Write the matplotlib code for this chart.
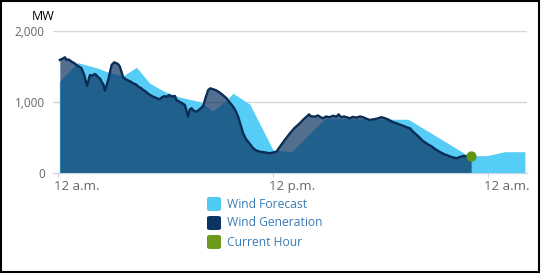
import matplotlib.pyplot as plt
from matplotlib.patches import FancyBboxPatch, Rectangle
from matplotlib.transforms import ScaledTranslation

plt.rcParams['font.family'] = ['Open Sans', 'DejaVu Sans']

# hours after 12 a.m., MW
forecast_hours = [0.07, 1.09, 2.24, 2.71, 3.63, 4.38, 5.12, 5.96, 6.70, 7.91,
                  8.64, 9.40, 9.77, 10.70, 12.00, 13.03, 14.80, 14.98, 18.61, 19.54,
                  22.98, 23.35, 23.91, 24.93, 26.05]
forecast_mw = [1289, 1556, 1477, 1429, 1369, 1491, 1266, 1148, 1078, 1008,
               877, 1032, 1126, 972, 330, 306, 751, 775, 761, 761,
               236, 250, 250, 306, 306]

gen_hours = [0.10, 0.25, 0.38, 0.48, 0.60, 0.75, 0.90, 1.03, 1.17, 1.31,
             1.45, 1.62, 1.78, 1.90, 2.05, 2.15, 2.24, 2.35, 2.43, 2.53,
             2.61, 2.70, 2.80, 2.90, 2.99, 3.13, 3.27, 3.37, 3.45, 3.55,
             3.63, 3.80, 3.95, 4.05, 4.19, 4.35, 4.50, 4.63, 4.75, 4.90,
             5.03, 5.15, 5.31, 5.45, 5.57, 5.68, 5.80, 5.93, 6.06, 6.20,
             6.35, 6.52, 6.61, 6.75, 6.90, 7.08, 7.17, 7.26, 7.35, 7.45,
             7.57, 7.73, 7.90, 8.10, 8.23, 8.38, 8.50, 8.66, 8.80, 8.93,
             9.03, 9.20, 9.40, 9.57, 9.77, 9.93, 10.05, 10.19, 10.33, 10.47,
             10.61, 10.75, 10.89, 11.05, 11.26, 11.45, 11.64, 11.82, 12.00, 12.19,
             12.38, 12.65, 12.94, 13.20, 13.49, 13.70, 13.87, 14.00, 14.10, 14.33,
             14.50, 14.65, 14.79, 14.95, 15.15, 15.35, 15.54, 15.65, 15.80, 15.95,
             16.10, 16.28, 16.45, 16.65, 16.85, 17.03, 17.20, 17.40, 17.60, 17.80,
             18.05, 18.24, 18.40, 18.55, 18.70, 18.89, 19.05, 19.25, 19.45, 19.63,
             19.80, 20.01, 20.15, 20.30, 20.43, 20.56, 20.70, 20.85, 21.00, 21.12,
             21.25, 21.40, 21.55, 21.68, 21.85, 22.05, 22.24, 22.40, 22.61, 22.80,
             22.98, 23.05]
gen_mw = [1594, 1610, 1631, 1594, 1600, 1570, 1550, 1523, 1500, 1477,
          1390, 1229, 1383, 1370, 1397, 1380, 1351, 1330, 1289, 1250,
          1163, 1230, 1313, 1420, 1523, 1560, 1547, 1530, 1499, 1420,
          1351, 1320, 1300, 1290, 1266, 1250, 1215, 1200, 1172, 1150,
          1120, 1100, 1078, 1065, 1050, 1042, 1070, 1085, 1078, 1100,
          1080, 1088, 1032, 1010, 990, 962, 880, 797, 900, 915,
          880, 868, 900, 948, 1060, 1172, 1195, 1182, 1170, 1150,
          1134, 1100, 1056, 1000, 938, 870, 797, 680, 564, 490,
          446, 400, 354, 325, 306, 300, 292, 284, 295, 306,
          376, 470, 564, 640, 705, 760, 797, 830, 805, 797,
          815, 790, 775, 800, 790, 810, 797, 830, 790, 800,
          790, 775, 795, 785, 800, 789, 770, 751, 760, 770,
          790, 775, 760, 740, 720, 705, 690, 670, 650, 635,
          590, 541, 510, 470, 445, 424, 400, 380, 350, 330,
          310, 290, 270, 260, 240, 225, 213, 230, 246, 240,
          236, 240]

current_hour = 23.05
current_mw = 240

tick_hours = [0, 12, 24]
tick_labels = ['12 a.m.', '12 p.m.', '12 a.m.']
y_ticks = [0, 1000, 2000]
y_labels = ['0', '1,000', '2,000']

legend_names = ['Wind Forecast', 'Wind Generation', 'Current Hour']
legend_colors = ['#4fcaf3', '#0b3462', '#6b9a1c']

fig = plt.figure(figsize=(5.41, 2.74), dpi=100)
ax = fig.add_axes([0.098, 0.3668, 0.8762, 0.5201])

ax.fill_between(forecast_hours, forecast_mw, 0, color='#55cdf6', lw=0, zorder=2)
ax.fill_between(gen_hours, gen_mw, 0, color='#0a3260', alpha=0.7, lw=0, zorder=3)
ax.plot(gen_hours, gen_mw, color='#0b2c55', lw=1.7, zorder=4)
ax.scatter([current_hour], [current_mw], s=55, color='#5f9512', zorder=5, lw=0)

ax.set_xlim(-0.28, 26.17)
ax.set_ylim(0, 2000)
ax.set_yticks(y_ticks)
ax.set_yticklabels(y_labels)
ax.set_xticks(tick_hours)
ax.set_xticklabels(tick_labels)
ax.grid(axis='y', color='#d6d6d6', lw=1)
ax.set_axisbelow(True)
for s in ['top', 'right', 'left']:
    ax.spines[s].set_visible(False)
ax.spines['bottom'].set_color('#c8d4e6')
ax.spines['bottom'].set_zorder(6)
ax.tick_params(axis='y', length=0, pad=6, labelsize=8.5, labelcolor='#666666')
ax.tick_params(axis='x', length=3, color='#c8d4e6', pad=2, labelsize=9.5, labelcolor='#666666')
shift = ScaledTranslation(0.19, 0, fig.dpi_scale_trans)
for lab in ax.get_xticklabels():
    lab.set_transform(lab.get_transform() + shift)

fig.text(43 / 541, 1 - 17 / 274, 'MW', ha='center', va='center', fontsize=9, color='black')

W, H = 541, 274
for i, (name, col) in enumerate(zip(legend_names, legend_colors)):
    yc = 204 + i * 19
    box = FancyBboxPatch((207 / W, 1 - (yc + 7) / H), 14 / W, 14 / H,
                         boxstyle='round,pad=0,rounding_size=0.006',
                         transform=fig.transFigure, color=col, lw=0)
    fig.patches.append(box)
    fig.text(227 / W, 1 - yc / H, name, ha='left', va='center', fontsize=8.7, color='#3a7bb5')

fig.patches.append(Rectangle((1 / W, 2 / H), 538 / W, 271 / H, transform=fig.transFigure,
                             fill=False, edgecolor='black', lw=1.5))

fig.savefig('out.png', dpi=100)
